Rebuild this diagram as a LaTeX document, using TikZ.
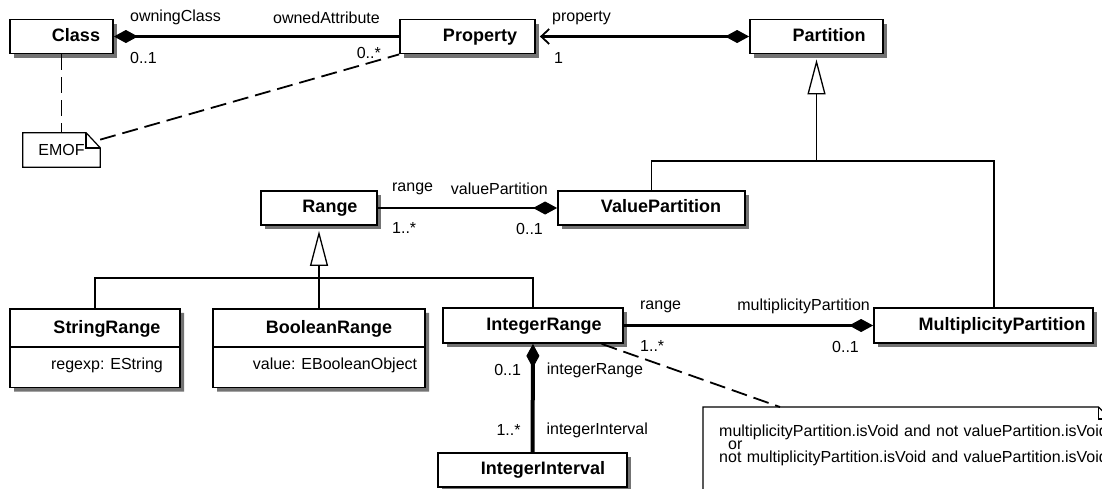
\documentclass[tikz,border=0pt]{standalone}
\usepackage{fontspec}
\setmainfont{Liberation Sans}
\usetikzlibrary{arrows.meta,shapes.multipart,shadows}

\newcommand{\cname}[2][22pt]{\hspace*{#1}#2}

\begin{document}
\begin{tikzpicture}[x=1pt,y=-1pt]
\tikzset{box/.style = {draw,line width=1.8pt,fill=white,inner sep=0pt,
  drop shadow={shadow xshift=4pt,shadow yshift=-4pt,fill=black!55,opacity=1}}}
\tikzset{umlclass/.style = {box,font=\fontsize{18}{20}\selectfont\bfseries,text height=13pt,text depth=4pt,minimum height=34pt}}
\tikzset{umlattr/.style = {box,rectangle split,rectangle split parts=2}}
\tikzset{lbl/.style = {inner sep=0pt,font=\fontsize{16}{18}\selectfont}}
\tikzset{assoc/.style = {line width=2.5pt}}
\tikzset{diastart/.style = {assoc,arrows={Diamond[length=24pt,width=13pt,line width=1pt]-}}}
\tikzset{diaend/.style = {assoc,arrows={-Diamond[length=24pt,width=13pt,line width=1pt]}}}
\tikzset{inh/.style = {line width=1.3pt,-{Triangle[open,length=35pt,width=18pt,fill=white]},shorten >=5pt}}
\tikzset{tree/.style = {line width=1.3pt}}
\tikzset{anchorline/.style = {line width=1.8pt,dash pattern=on 16pt off 7pt}}
\useasboundingbox (0,0) rectangle (1102,488);
\clip (0,0) rectangle (1102,488);
% NODES
\node[umlclass,minimum width=103pt] (cls) at (61.5,36.5) {\cname[29pt]{Class}};
\node[umlclass,minimum width=135pt] (prop) at (467.5,36.5) {\cname[25pt]{Property}};
\node[umlclass,minimum width=133pt] (part) at (816.5,36.5) {\cname[25pt]{Partition}};
\node[umlclass,minimum width=116pt] (rng) at (319,208) {\cname{Range}};
\node[umlclass,minimum width=187pt] (vpart) at (651.5,208) {\cname[19pt]{ValuePartition}};
\node[umlattr,minimum width=170pt,anchor=north] (srng) at (95,308)
  {\fontsize{18}{20}\selectfont\bfseries\cname[24pt]{StringRange}\rule[-12pt]{0pt}{36pt}
   \nodepart{two}\fontsize{16}{18}\selectfont\cname[24pt]{regexp: EString}\rule[-17pt]{0pt}{39pt}};
\node[umlattr,minimum width=212pt,anchor=north] (brng) at (319,308)
  {\fontsize{18}{20}\selectfont\bfseries\cname[20pt]{BooleanRange}\rule[-12pt]{0pt}{36pt}
   \nodepart{two}\fontsize{16}{18}\selectfont\cname[32pt]{value: EBooleanObject}\rule[-17pt]{0pt}{39pt}};
\node[umlclass,minimum width=180pt,minimum height=35pt] (irng) at (533,325.5) {\cname{IntegerRange}};
\node[umlclass,minimum width=219pt,minimum height=35pt] (mpart) at (983.5,325.5) {\cname[37pt]{MultiplicityPartition}};
\node[umlclass,minimum width=189pt] (iint) at (532.5,470) {\cname[21pt]{IntegerInterval}};
% notes
\node[lbl,minimum width=77pt,minimum height=34pt] (emof) at (61.5,150) {EMOF};
\draw[line width=1.2pt] (emof.north west) -- ([xshift=-14pt]emof.north east) -- ([yshift=-15pt]emof.north east)
  -- (emof.south east) -- (emof.south west) -- cycle;
\draw[line width=1.8pt] ([xshift=-14pt]emof.north east) |- ([yshift=-15pt]emof.north east);
\node[anchor=north west,inner xsep=16pt,inner ysep=18pt,text width=375pt,align=left,
  font=\fontsize{16}{13}\selectfont] (cstr) at (703,407)
  {\mbox{multiplicityPartition.isVoid and not valuePartition.isVoid}\\
   \hspace*{9pt}or\\
   \mbox{not multiplicityPartition.isVoid and valuePartition.isVoid}\rule[-30pt]{0pt}{0pt}};
\draw[line width=1.2pt] (cstr.south west) -- (cstr.north west) -- ([xshift=-12pt]cstr.north east)
  -- ([yshift=-12pt]cstr.north east) -- (cstr.south east);
\draw[line width=1.8pt] ([xshift=-12pt]cstr.north east) |- ([yshift=-12pt]cstr.north east);
\coordinate (cstrtop) at ([xshift=77pt]cstr.north west);
\coordinate (pj) at (816.5,161);
\coordinate (mtop) at ([xshift=10.5pt]mpart.north);
\coordinate (rj) at (319,278);
% EDGES
\draw[diastart] (cls) -- node[lbl,pos=0,anchor=west,xshift=15pt,yshift=19pt] {owningClass}
  node[lbl,pos=0,anchor=west,xshift=15pt,yshift=-21pt] {0..1}
  node[lbl,pos=1,anchor=east,xshift=-18pt,yshift=19pt] {ownedAttribute}
  node[lbl,pos=1,anchor=east,xshift=-17pt,yshift=-16pt] {0..*} (prop);
\draw[assoc,arrows={Straight Barb[length=8pt,width=15pt,line width=1.8pt]-Diamond[length=24pt,width=13pt,line width=1pt]},shorten <=4pt]
  (prop) -- node[lbl,pos=0,anchor=west,xshift=15pt,yshift=19pt] {property}
  node[lbl,pos=0,anchor=west,xshift=17pt,yshift=-21pt] {1} (part);
\draw[diaend] (rng) -- node[lbl,pos=0,anchor=west,xshift=13pt,yshift=19pt] {range}
  node[lbl,pos=0,anchor=west,xshift=13pt,yshift=-20pt] {1..*}
  node[lbl,pos=1,anchor=east,xshift=-8pt,yshift=19pt] {valuePartition}
  node[lbl,pos=1,anchor=east,xshift=-13pt,yshift=-21pt] {0..1} (vpart);
\draw[diaend] (irng) -- node[lbl,pos=0,anchor=west,xshift=15pt,yshift=19pt] {range}
  node[lbl,pos=0,anchor=west,xshift=15pt,yshift=-20pt] {1..*}
  node[lbl,pos=1,anchor=east,xshift=-2pt,yshift=19pt] {multiplicityPartition}
  node[lbl,pos=1,anchor=east,xshift=-13pt,yshift=-21pt] {0..1} (mpart);
\draw[diastart,line width=4pt] (irng) -- node[lbl,pos=0,anchor=east,xshift=-10pt,yshift=-26pt] {0..1}
  node[lbl,pos=0,anchor=west,xshift=12pt,yshift=-26pt] {integerRange}
  node[lbl,pos=1,anchor=east,xshift=-10pt,yshift=22pt] {1..*}
  node[lbl,pos=1,anchor=west,xshift=12pt,yshift=22pt] {integerInterval} (iint);
% generalizations
\draw[tree] (vpart) |- (pj) -| (mtop);
\draw[inh] (pj) -- (part);
\draw[tree] (srng.north) |- (rj) -| (irng.north);
\draw[tree] (brng) -- (rj);
\draw[inh] (rj) -- (rng);
% note anchors
\draw[anchorline] (cls) -- (emof);
\draw[anchorline] (emof.15) -- (prop.south west);
\draw[anchorline] (irng.-15) -- (cstrtop);
\end{tikzpicture}
\end{document}
